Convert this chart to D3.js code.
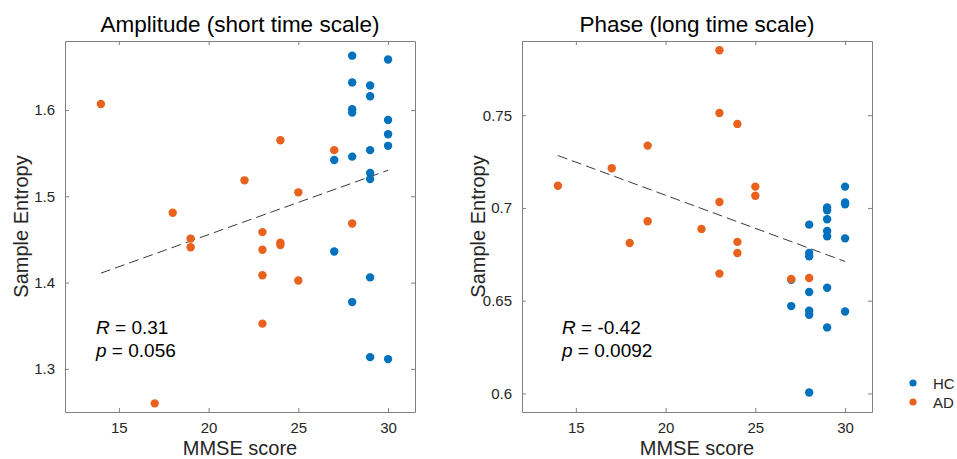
<!DOCTYPE html>
<html>
<head>
<meta charset="utf-8">
<script src="https://cdn.jsdelivr.net/npm/d3@7"></script>
<style>
  body { margin: 0; background: #fff; }
  svg { display: block; font-family: "Liberation Sans", Arial, sans-serif; }
</style>
</head>
<body>
<svg id="chart" width="957" height="459"></svg>
<script>
// MMSE score vs. sample entropy, [MMSE, SampEn] pairs per group
const ampHC = [
  [28, 1.663], [30, 1.6585], [28, 1.632], [29, 1.6285], [29, 1.616],
  [28, 1.601], [28, 1.597], [30, 1.5885], [30, 1.572], [30, 1.5585],
  [29, 1.5535], [28, 1.546], [27, 1.542], [29, 1.527], [29, 1.520],
  [27, 1.436], [29, 1.406], [28, 1.3774], [29, 1.3136], [30, 1.3113]
];
const ampAD = [
  [14, 1.607], [24, 1.565], [27, 1.5535], [22, 1.5185], [25, 1.5046],
  [18, 1.481], [28, 1.4685], [23, 1.4585], [19, 1.451], [19, 1.441],
  [23, 1.438], [24, 1.4462], [24, 1.4435], [23, 1.4085], [25, 1.4024],
  [23, 1.3524], [17, 1.26]
];
const phaseHC = [
  [30, 0.7115], [30, 0.703], [30, 0.702], [29, 0.7003], [29, 0.6987],
  [29, 0.6939], [28, 0.691], [29, 0.6876], [29, 0.6847], [30, 0.6836],
  [28, 0.6757], [28, 0.6739], [27, 0.6613], [28, 0.6547], [29, 0.657],
  [27, 0.6471], [28, 0.6446], [28, 0.6424], [30, 0.6442], [29, 0.6356],
  [28, 0.6005]
];
const phaseAD = [
  [23, 0.785], [23, 0.7512], [24, 0.7453], [19, 0.7336], [17, 0.7214],
  [14, 0.712], [25, 0.7115], [25, 0.7066], [23, 0.7032], [19, 0.6928],
  [22, 0.6887], [18, 0.6811], [24, 0.6817], [24, 0.6757], [23, 0.6646],
  [27, 0.6617], [28, 0.6622]
];

const xTicks = [15, 20, 25, 30];
const ampTicks = [1.3, 1.4, 1.5, 1.6];
const phaseTicks = [0.6, 0.65, 0.7, 0.75];

const groups = ["HC", "AD"];
const colors = { HC: "#0072BD", AD: "#E8621D" };

const panels = [
  { title: "Amplitude (short time scale)", hc: ampHC, ad: ampAD,
    yDomain: [1.25, 1.68], yTicks: ampTicks, stats: ["0.31", "0.056"], left: 65, annX: 31 },
  { title: "Phase (long time scale)", hc: phaseHC, ad: phaseAD,
    yDomain: [0.59, 0.79], yTicks: phaseTicks, stats: ["-0.42", "0.0092"], left: 522, annX: 40 }
];

const svg = d3.select("#chart");
const plotW = 350, plotTop = 41, plotH = 371;
const axisColor = "#808080";
const textColor = "#262626";

// least-squares fit over all points of a panel
function fit(points) {
  const mx = d3.mean(points, d => d[0]);
  const my = d3.mean(points, d => d[1]);
  const sxy = d3.sum(points, d => (d[0] - mx) * (d[1] - my));
  const sxx = d3.sum(points, d => (d[0] - mx) ** 2);
  const b = sxy / sxx;
  return v => my + b * (v - mx);
}

panels.forEach(p => {
  const g = svg.append("g").attr("transform", `translate(${p.left},${plotTop})`);
  const x = d3.scaleLinear().domain([12, 31.5]).range([0, plotW]);
  const y = d3.scaleLinear().domain(p.yDomain).range([plotH, 0]);

  // box with inward ticks on every side
  const styleAxis = sel => {
    sel.select(".domain").attr("stroke", axisColor).attr("stroke-width", 1);
    sel.selectAll(".tick line").attr("stroke", axisColor);
    sel.selectAll(".tick text").attr("fill", textColor).attr("font-size", 15)
      .attr("font-family", "Liberation Sans, Arial, sans-serif");
  };
  g.append("g").attr("transform", `translate(0,${plotH})`)
    .call(d3.axisBottom(x).tickValues(xTicks).tickSizeInner(-4).tickSizeOuter(0).tickPadding(10))
    .call(styleAxis);
  g.append("g")
    .call(d3.axisTop(x).tickValues(xTicks).tickSizeInner(-4).tickSizeOuter(0).tickFormat(""))
    .call(styleAxis);
  g.append("g")
    .call(d3.axisLeft(y).tickValues(p.yTicks).tickSizeInner(-4).tickSizeOuter(0).tickPadding(10)
      .tickFormat(d3.format("")))
    .call(styleAxis);
  g.append("g").attr("transform", `translate(${plotW},0)`)
    .call(d3.axisRight(y).tickValues(p.yTicks).tickSizeInner(-4).tickSizeOuter(0).tickFormat(""))
    .call(styleAxis);

  // regression line over the MMSE range
  const all = p.hc.concat(p.ad);
  const f = fit(all);
  const xr = d3.extent(all, d => d[0]);
  g.append("line")
    .attr("x1", x(xr[0])).attr("y1", y(f(xr[0])))
    .attr("x2", x(xr[1])).attr("y2", y(f(xr[1])))
    .attr("stroke", "#3a3a3a").attr("stroke-width", 1)
    .attr("stroke-dasharray", "10,5");

  // points: HC first, AD on top
  [["HC", p.hc], ["AD", p.ad]].forEach(([grp, data]) => {
    g.append("g").selectAll("circle").data(data).join("circle")
      .attr("cx", d => x(d[0])).attr("cy", d => y(d[1]))
      .attr("r", 4.2).attr("fill", colors[grp]);
  });

  // title
  g.append("text").attr("x", plotW / 2).attr("y", -9)
    .attr("text-anchor", "middle").attr("font-size", 22.5).attr("fill", "#000")
    .text(p.title);

  // axis labels
  g.append("text").attr("x", plotW / 2).attr("y", plotH + 43)
    .attr("text-anchor", "middle").attr("font-size", 20).attr("fill", textColor)
    .text("MMSE score");
  g.append("text")
    .attr("transform", `translate(-37,${plotH / 2}) rotate(-90)`)
    .attr("text-anchor", "middle").attr("font-size", 20).attr("fill", textColor)
    .text("Sample Entropy");

  // correlation annotation
  const l1 = g.append("text").attr("font-size", 19).attr("fill", "#000")
    .attr("x", p.annX).attr("y", 293);
  l1.append("tspan").attr("font-style", "italic").text("R");
  l1.append("tspan").text(" = " + p.stats[0]);
  const l2 = g.append("text").attr("font-size", 19).attr("fill", "#000")
    .attr("x", p.annX).attr("y", 316);
  l2.append("tspan").attr("font-style", "italic").text("p");
  l2.append("tspan").text(" = " + p.stats[1]);
});

// legend
const legend = svg.append("g").attr("transform", "translate(913,383)");
groups.forEach((grp, i) => {
  const row = legend.append("g").attr("transform", `translate(0,${i * 19})`);
  row.append("circle").attr("r", 3.6).attr("fill", colors[grp]);
  row.append("text").attr("x", 20).attr("y", 5.5).attr("font-size", 15)
    .attr("fill", textColor).text(grp);
});
</script>
</body>
</html>
